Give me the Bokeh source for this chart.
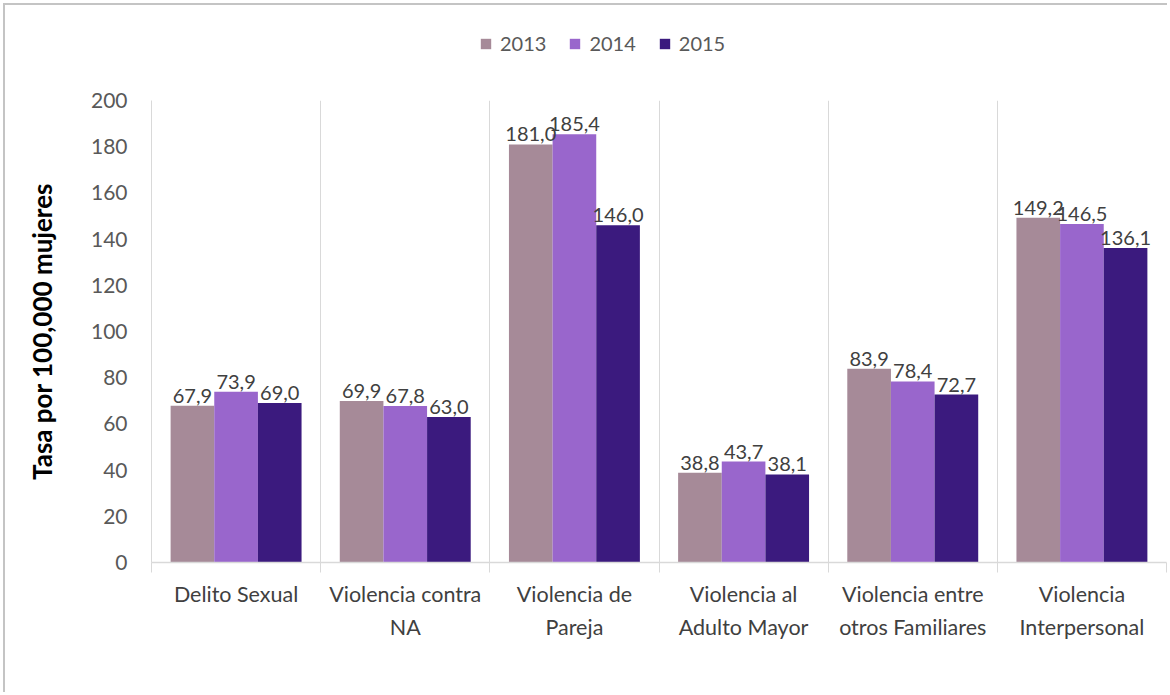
from bokeh.plotting import figure
from bokeh.layouts import column
from bokeh.models import ColumnDataSource, FixedTicker, Legend, LegendItem, LabelSet
from bokeh.transform import dodge
from bokeh.core.properties import value
from bokeh.embed import file_html
from bokeh.resources import INLINE

categories = ["Delito Sexual", "Violencia contra\nNA", "Violencia de\nPareja",
              "Violencia al\nAdulto Mayor", "Violencia entre\notros Familiares",
              "Violencia\nInterpersonal"]
years = ["2013", "2014", "2015"]
v2013 = [67.9, 69.9, 181.0, 38.8, 83.9, 149.2]
v2014 = [73.9, 67.8, 185.4, 43.7, 78.4, 146.5]
v2015 = [69.0, 63.0, 146.0, 38.1, 72.7, 136.1]
colors = ["#A68A98", "#9966CC", "#3B1A7E"]
y_ticks = [0, 20, 40, 60, 80, 100, 120, 140, 160, 180, 200]

FONT = "Lato"
centers = [i + 0.5 for i in range(len(categories))]
offsets = [-0.258, 0.0, 0.258]
series = [v2013, v2014, v2015]

# ---- legend strip (top) ----
leg = figure(width=1162, height=83, x_range=(0, 6), y_range=(0, 200), title=None,
             output_backend="svg", toolbar_location=None,
             x_axis_location=None, y_axis_location=None, min_border=0)
leg.grid.grid_line_color = None
leg.outline_line_color = None
leg.border_fill_color = "white"
leg_items = []
for yr, vals, col, off in zip(years, series, colors, offsets):
    r = leg.vbar(x=[c + off for c in centers], top=vals, width=0.258,
                 fill_color=col, line_color=None, visible=False)
    leg_items.append(LegendItem(label=yr, renderers=[r]))
legend = Legend(items=leg_items, orientation="horizontal", location=(328, 33),
                glyph_width=13, glyph_height=13, label_standoff=8, spacing=22,
                label_text_font=FONT, label_text_font_size="20px",
                label_text_color="#595959", border_line_color=None,
                background_fill_alpha=0, inactive_fill_alpha=0,
                padding=0, margin=0)
leg.add_layout(legend, "center")

# ---- main chart ----
p = figure(width=1162, height=604, x_range=(0, 6), y_range=(0, 200), title=None,
           output_backend="svg", toolbar_location=None,
           min_border_left=146, min_border_right=1, min_border_top=12,
           min_border_bottom=130)
p.outline_line_color = None
p.background_fill_color = "white"
p.border_fill_color = "white"

for yr, vals, col, off in zip(years, series, colors, offsets):
    src = ColumnDataSource(dict(x=centers, top=vals,
                                lab=[f"{v:.1f}".replace(".", ",") for v in vals]))
    p.vbar(x=dodge("x", off), top="top", width=0.258, bottom=0, source=src,
           fill_color=col, line_color=None)
    ls = LabelSet(x=dodge("x", off), y="top", text="lab", source=src,
                  text_align="center", text_baseline="bottom", y_offset=3,
                  text_font=value(FONT), text_font_size=value("20px"),
                  text_color="#404040")
    p.add_layout(ls)

# grid
p.ygrid.grid_line_color = None
p.xgrid.ticker = FixedTicker(ticks=list(range(7)))
p.xgrid.grid_line_color = "#D9D9D9"
p.xgrid.grid_line_width = 1

# x axis
xa = p.xaxis[0]
xa.ticker = FixedTicker(ticks=centers, minor_ticks=list(range(7)))
xa.major_label_overrides = {c: lab for c, lab in zip(centers, categories)}
xa.major_tick_line_color = None
xa.major_tick_out = 0
xa.major_tick_in = 0
xa.minor_tick_line_color = "#D9D9D9"
xa.minor_tick_out = 10
xa.minor_tick_in = 0
xa.axis_line_color = "#D9D9D9"
xa.axis_line_width = 1.5
xa.major_label_text_font = FONT
xa.major_label_text_font_size = "21.5px"
xa.major_label_text_color = "#404040"
xa.major_label_text_line_height = 1.3
xa.major_label_standoff = 8

# y axis
ya = p.yaxis[0]
ya.ticker = FixedTicker(ticks=y_ticks)
ya.major_tick_line_color = None
ya.minor_tick_line_color = None
ya.axis_line_color = "#D9D9D9"
ya.major_label_text_font = FONT
ya.major_label_text_font_size = "21px"
ya.major_label_text_color = "#595959"
ya.major_label_standoff = 18
ya.axis_label = "Tasa por 100,000 mujeres"
ya.axis_label_text_font = FONT
ya.axis_label_text_font_style = "bold"
ya.axis_label_text_font_size = "26px"
ya.axis_label_text_color = "#000000"
ya.axis_label_standoff = 30

layout = column(leg, p, spacing=0, margin=(3, 0, 0, 3),
                styles={"border-top": "2px solid #C4C4C4",
                        "border-left": "2px solid #C4C4C4"})

open("out.html", "w").write(file_html(layout, INLINE))
